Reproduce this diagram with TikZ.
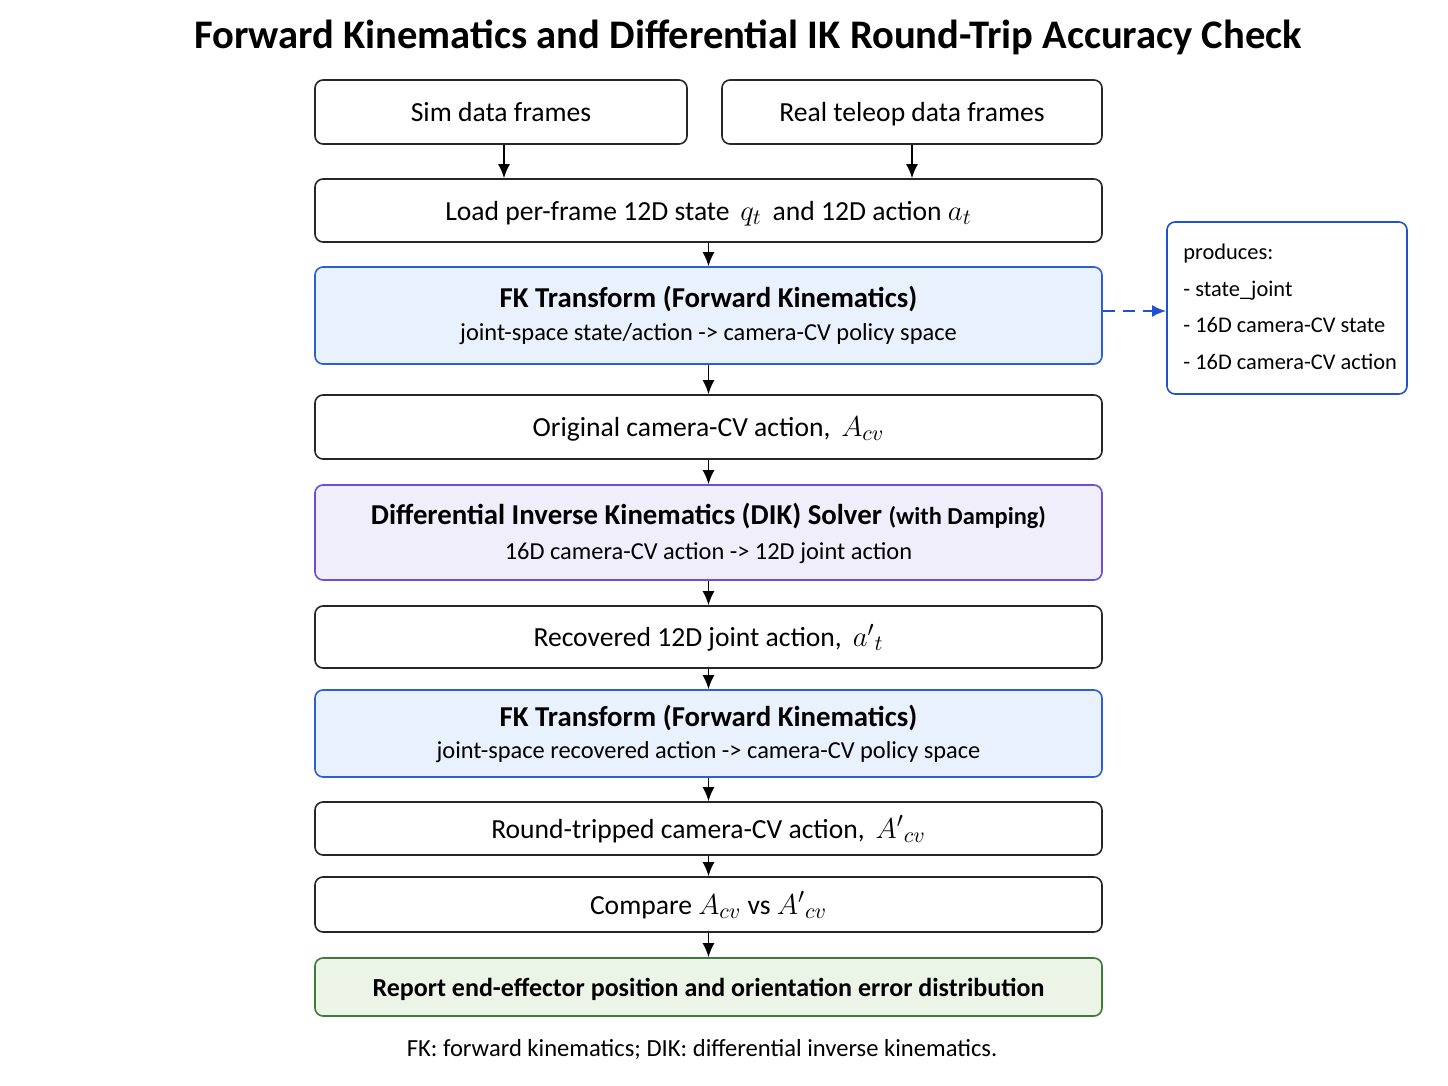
\documentclass[tikz,border=0pt]{standalone}
\usepackage{fontspec}
\setmainfont{Carlito}
\usetikzlibrary{arrows.meta}
\definecolor{fkfill}{HTML}{E9F1FD}
\definecolor{fkdraw}{HTML}{2B5FD3}
\definecolor{dikfill}{HTML}{F1EEFC}
\definecolor{dikdraw}{HTML}{6B4FD8}
\definecolor{repfill}{HTML}{EBF4E6}
\definecolor{repdraw}{HTML}{3B7D36}
\definecolor{prodraw}{HTML}{1F52CC}
\newcommand{\bm}[1]{{\fontsize{15}{16}\selectfont$#1$}}
\begin{document}
\begin{tikzpicture}[x=0.5pt,y=-0.5pt,
  box/.style={draw=black!85, line width=0.8pt, rounded corners=4pt, fill=white, inner sep=0pt, align=center, font=\fontsize{13.8}{16}\selectfont, text height=2.2ex, text depth=0.2ex},
  wide/.style={box, minimum width=393.5pt},
  fkbox/.style={wide, draw=fkdraw, fill=fkfill},
  dikbox/.style={wide, draw=dikdraw, fill=dikfill},
  repbox/.style={wide, draw=repdraw, fill=repfill},
  arr/.style={-{Latex[length=7pt,width=6pt]}, line width=0.9pt, black},
  hd/.style={font=\bfseries\fontsize{14.4}{16}\selectfont},
  sub/.style={font=\fontsize{12.2}{14}\selectfont}
]
\useasboundingbox[fill=white] (0,0) rectangle (1448,1086);
\node[font=\bfseries\fontsize{20.3}{23}\selectfont] (title) at (748,37) {Forward Kinematics and Differential IK Round-Trip Accuracy Check};

\node[box, minimum width=186pt, minimum height=32pt] (sim) at (501,112) {Sim data frames};
\node[box, minimum width=190pt, minimum height=32pt] (real) at (912,112) {Real teleop data frames};
\node[wide, minimum height=31.5pt] (load) at (708.5,210.5) {Load per-frame 12D state \,\bm{q_t}\, and 12D action \bm{a_t}};
\node[fkbox, minimum height=48.5pt] (fk1) at (708.5,315.5) {};
\node[hd] (fk1h) at (708.5,299) {FK Transform (Forward Kinematics)};
\node[sub] (fk1s) at (708.5,334) {joint-space state/action -> camera-CV policy space};
\node[box, draw=prodraw, minimum width=120pt, minimum height=86pt] (prod) at (1287,308) {};
\node[anchor=north west, align=left, font=\fontsize{11.2}{18.2}\selectfont, inner sep=0pt] (prodt) at (1183,244) {produces:\\- state\_joint\\- 16D camera-CV state\\- 16D camera-CV action};
\node[wide, minimum height=32pt] (orig) at (708.5,427) {Original camera-CV action, \,\bm{A_{cv}}};
\node[dikbox, minimum height=47.5pt] (dik) at (708.5,532.5) {};
\node[hd] (dikh) at (708.5,516) {Differential Inverse Kinematics (DIK) Solver {\fontsize{12.2}{14}\selectfont (with Damping)}};
\node[sub] (diks) at (708.5,553) {16D camera-CV action -> 12D joint action};
\node[wide, minimum height=31pt] (rec) at (708.5,637) {Recovered 12D joint action, \,\bm{a'{}_t}};
\node[fkbox, minimum height=43.5pt] (fk2) at (708.5,733.5) {};
\node[hd] (fk2h) at (708.5,718) {FK Transform (Forward Kinematics)};
\node[sub] (fk2s) at (708.5,752) {joint-space recovered action -> camera-CV policy space};
\node[wide, minimum height=26.5pt] (round) at (708.5,828.5) {Round-tripped camera-CV action, \,\bm{A'{}_{cv}}};
\node[wide, minimum height=27.5pt] (cmp) at (708.5,904.5) {Compare \bm{A_{cv}} vs \bm{A'{}_{cv}}};
\node[repbox, minimum height=29pt, font=\bfseries\fontsize{13}{16}\selectfont] (rep) at (708.5,987) {Report end-effector position and orientation error distribution};
\node[font=\fontsize{12.3}{14}\selectfont] (foot) at (702,1050) {FK: forward kinematics; DIK: differential inverse kinematics.};

\draw[arr] (sim.south -| 504,0) -- (load.north -| 504,0);
\draw[arr] (real.south) -- (load.north -| real.south);
\draw[arr] (load.south) -- (fk1.north);
\draw[arr] (fk1.south) -- (orig.north);
\draw[arr] (orig.south) -- (dik.north);
\draw[arr] (dik.south) -- (rec.north);
\draw[arr] (rec.south) -- (fk2.north);
\draw[arr] (fk2.south) -- (round.north);
\draw[arr] (round.south) -- (cmp.north);
\draw[arr] (cmp.south) -- (rep.north);
\draw[-{Latex[length=7pt,width=6pt]}, line width=1.2pt, draw=prodraw, dash pattern=on 6pt off 4pt] (fk1.east |- 0,311) -- (prod.west |- 0,311);
\end{tikzpicture}
\end{document}
